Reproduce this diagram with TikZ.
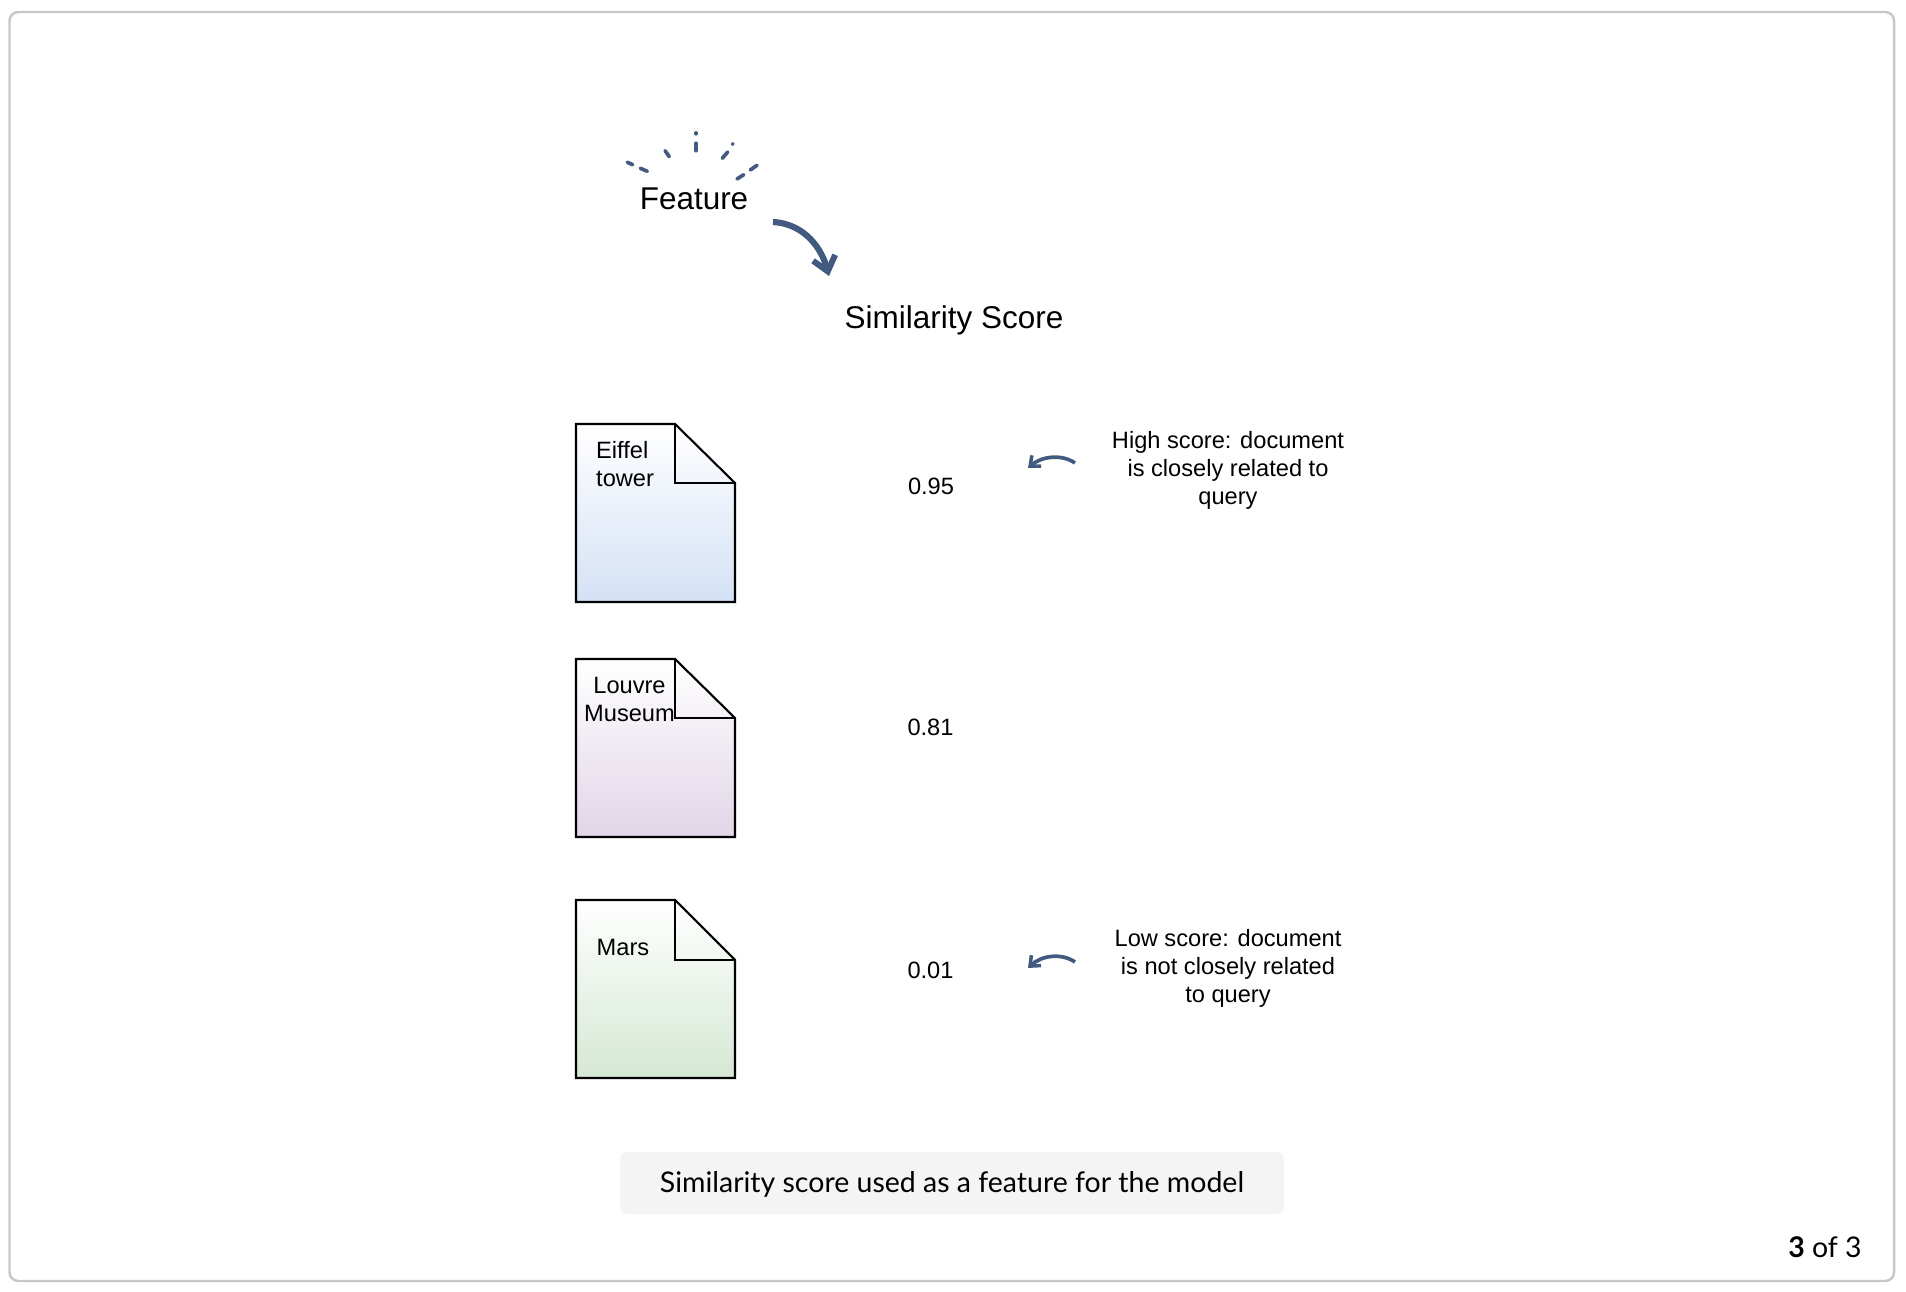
\documentclass[tikz,border=0pt]{standalone}
\usepackage{fontspec}
\setmainfont{Liberation Sans}
\newfontfamily\captionfont{Lato}
\usetikzlibrary{arrows.meta}
\definecolor{inkblue}{HTML}{435A80}
\definecolor{docblue}{HTML}{D4E1F5}
\definecolor{docpurple}{HTML}{E1D5E7}
\definecolor{docgreen}{HTML}{D5E8D4}
\definecolor{capgray}{HTML}{F4F4F4}
\begin{document}
\begin{tikzpicture}[x=0.01cm, y=-0.01cm]
    % Styles
    \tikzstyle{heading} = [inner sep=0pt, font=\fontsize{8.95}{10.5}\selectfont]
    \tikzstyle{small} = [inner sep=0pt, align=center, font=\fontsize{6.72}{7.95}\selectfont]
    \tikzstyle{doctext} = [inner sep=0pt, align=left, font=\fontsize{6.72}{7.95}\selectfont]
    \tikzstyle{page} = [draw=black, line width=0.6pt, line join=miter]
    \tikzstyle{spark} = [draw=inkblue, line width=1.05pt, line cap=round]
    \tikzstyle{bigarrow} = [draw=inkblue, line width=1.75pt, -{Straight Barb[length=4pt, width=6.5pt, line width=1.7pt]}]
    \tikzstyle{tinyarrow} = [draw=inkblue, line width=1.05pt, -{Straight Barb[length=2.4pt, width=4pt, line width=1pt]}]
    \tikzstyle{captext} = [inner sep=0pt, font=\captionfont\fontsize{8.1}{10}\selectfont]

    % Frame
    \path[use as bounding box] (0, 0) rectangle (1906, 1292);
    \draw[draw=black!22, line width=0.7pt, rounded corners=2.5pt] (9.5, 12) rectangle (1894, 1281);

    % Heading
    \node[heading] (feature) at (694, 198.5) {Feature};
    \node[heading] (simscore) at (954, 320) {Similarity Score};
    \coordinate (featout) at (773, 222);
    \coordinate (simin) at (829, 276);
    \draw[bigarrow] (featout) .. controls (806, 224) and (822, 250) .. (simin);

    % Sparks above the feature
    \draw[spark] (627.3, 162.3) -- (632.7, 164.7);
    \draw[spark] (640.3, 168.3) -- (647.3, 171.3);
    \draw[spark] (665, 150.7) -- (669.3, 156.7);
    \draw[spark] (696, 143.3) -- (696, 150.7);
    \draw[spark] (696, 133) -- (696, 133.8);
    \draw[spark] (722.3, 158.3) -- (727.7, 152);
    \draw[spark] (732.5, 144.2) -- (733, 143.8);
    \draw[spark] (737, 179) -- (743.7, 174.7);
    \draw[spark] (750.3, 170) -- (757, 165.3);

    % Documents
    \shade[top color=white, bottom color=docblue] (576, 424) -- (675, 424) -- (735, 483) -- (735, 602) -- (576, 602) -- cycle;
    \draw[page] (576, 424) -- (675, 424) -- (735, 483) -- (735, 602) -- (576, 602) -- cycle;
    \draw[page] (675, 424) -- (675, 483) -- (735, 483);
    \shade[top color=white, bottom color=docpurple] (576, 659) -- (675, 659) -- (735, 718) -- (735, 837) -- (576, 837) -- cycle;
    \draw[page] (576, 659) -- (675, 659) -- (735, 718) -- (735, 837) -- (576, 837) -- cycle;
    \draw[page] (675, 659) -- (675, 718) -- (735, 718);
    \shade[top color=white, bottom color=docgreen] (576, 900) -- (675, 900) -- (735, 960) -- (735, 1078) -- (576, 1078) -- cycle;
    \draw[page] (576, 900) -- (675, 900) -- (735, 960) -- (735, 1078) -- (576, 1078) -- cycle;
    \draw[page] (675, 900) -- (675, 960) -- (735, 960);

    % Document names
    \node[doctext, anchor=west] (eiffel) at (595.5, 464) {Eiffel\\tower};
    \node[small] (louvre) at (629.5, 699.5) {Louvre\\Museum};
    \node[doctext, anchor=west] (mars) at (596, 947) {Mars};

    % Scores
    \node[small] (scorea) at (931, 486) {0.95};
    \node[small] (scoreb) at (930.5, 727) {0.81};
    \node[small] (scorec) at (930.5, 970) {0.01};

    % Notes
    \node[small] (high) at (1228, 470) {High score: document\\is closely related to\\query};
    \node[small] (low) at (1228, 968.5) {Low score: document\\is not closely related\\to query};
    \coordinate (highout) at (1075, 463);
    \coordinate (highin) at (1028, 468);
    \coordinate (lowout) at (1075, 962);
    \coordinate (lowin) at (1028, 968);
    \draw[tinyarrow] (highout) .. controls (1062, 454) and (1042, 456) .. (highin);
    \draw[tinyarrow] (lowout) .. controls (1062, 953) and (1042, 955) .. (lowin);

    % Caption
    \node[fill=capgray, rounded corners=2pt, minimum width=664*0.01cm, minimum height=62*0.01cm, inner sep=0pt] (capbox) at (952, 1183) {};
    \node[captext] (caption) at (952, 1184.5) {Similarity score used as a feature for the model};
    \node[captext] (pagenum) at (1825, 1247) {\textbf{3} of 3};
\end{tikzpicture}
\end{document}
